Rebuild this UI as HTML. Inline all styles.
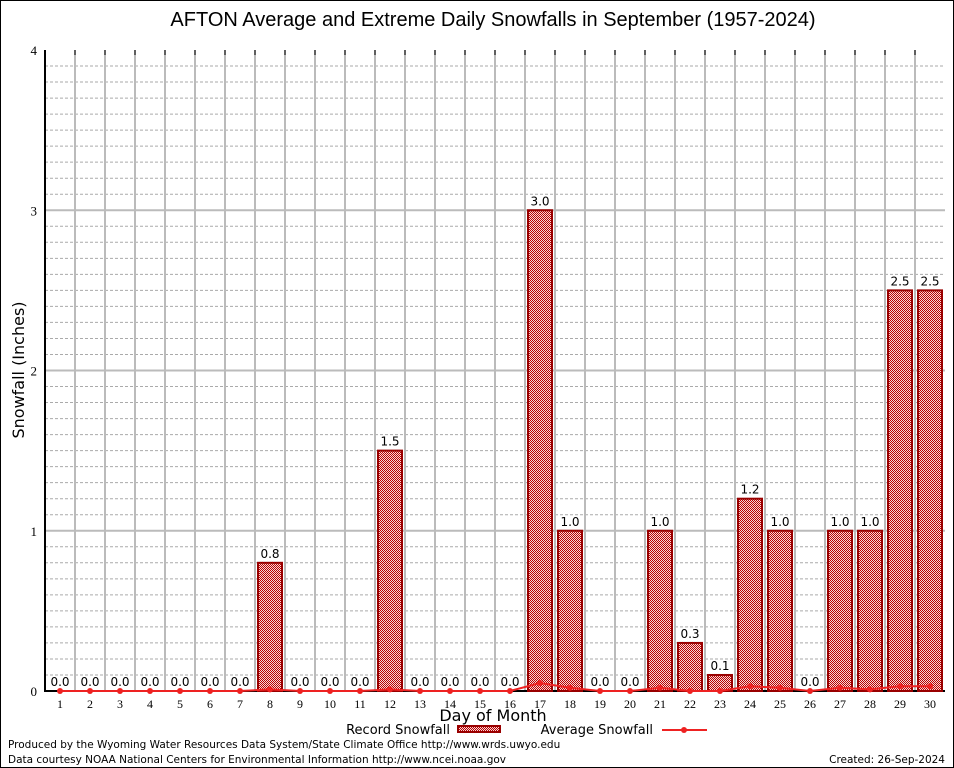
<!DOCTYPE html>
<html><head><meta charset="utf-8"><style>
body{margin:0;background:#fff}
svg{display:block;font-family:"DejaVu Sans","Liberation Sans",sans-serif}
</style></head><body>
<svg id="c" width="954" height="768">
<defs><pattern id="hatch" width="2" height="2" patternUnits="userSpaceOnUse"><rect width="2" height="2" fill="#f4d8d8"/><rect width="1" height="1" fill="#b00"/><rect x="1" y="1" width="1" height="1" fill="#b00"/></pattern></defs>
<rect x="0.5" y="0.5" width="953" height="767" fill="#fff" stroke="#000"/>
<text x="493" y="26" font-size="20" text-anchor="middle" font-family="Liberation Sans,sans-serif">AFTON Average and Extreme Daily Snowfalls in September (1957-2024)</text>
<g id="grid"></g><g id="bars"></g><g id="avg"></g>
<text x="24" y="370" font-size="16" text-anchor="middle" transform="rotate(-90 24 370)">Snowfall (Inches)</text>
<text x="493" y="721" font-size="16" text-anchor="middle">Day of Month</text>
<g>
<text x="450" y="734" font-size="13" text-anchor="end">Record Snowfall</text>
<rect x="458" y="726" width="42" height="6" fill="url(#hatch)" stroke="#900" stroke-width="2"/>
<text x="653" y="734" font-size="13" text-anchor="end">Average Snowfall</text>
<line x1="662" y1="730" x2="707" y2="730" stroke="#e22" stroke-width="2"/>
<circle cx="684" cy="730" r="3" fill="#e22"/>
</g>
<text x="8" y="748" font-size="10.5">Produced by the Wyoming Water Resources Data System/State Climate Office http://www.wrds.uwyo.edu</text>
<text x="8" y="763" font-size="10.5">Data courtesy NOAA National Centers for Environmental Information http://www.ncei.noaa.gov</text>
<text x="945" y="763" font-size="10.5" text-anchor="end">Created: 26-Sep-2024</text>
</svg>
<script>
const days=[1,2,3,4,5,6,7,8,9,10,11,12,13,14,15,16,17,18,19,20,21,22,23,24,25,26,27,28,29,30];
const records=[0,0,0,0,0,0,0,0.8,0,0,0,1.5,0,0,0,0,3.0,1.0,0,0,1.0,0.3,0.1,1.2,1.0,0,1.0,1.0,2.5,2.5];
const averages=[0,0,0,0,0,0,0,0.01,0,0,0,0.01,0,0,0,0,0.05,0.02,0,0,0.02,0,0,0.03,0.02,0,0.02,0.01,0.03,0.03];
const yTicks=[0,1,2,3,4];
const NS="http://www.w3.org/2000/svg";
const L=45,R=945,T=50,B=691;
const x=d=>60+(d-1)*30;
const y=v=>B-(v/4)*(B-T);
function mk(p,t,a){const e=document.createElementNS(NS,t);for(const k in a)e.setAttribute(k,a[k]);p.appendChild(e);return e;}
const g=document.getElementById('grid');
for(let i=1;i<40;i++){if(i%10===0)continue;const l=mk(g,'line',{x1:L,x2:R,y1:y(i/10),y2:y(i/10),stroke:'#aaa','stroke-dasharray':'3,2','stroke-width':1});

}
yTicks.forEach(v=>{if(v>0&&v<4){const l=mk(g,'line',{x1:L,x2:R,y1:y(v),y2:y(v),stroke:'#bbb','stroke-width':2});

}
const t=mk(g,'text',{x:37,y:y(v)+5,'font-size':13,'text-anchor':'end','font-family':'Liberation Serif,serif'});t.textContent=v;

});
days.forEach(d=>{if(d<30){const l=mk(g,'line',{x1:x(d)+15,x2:x(d)+15,y1:T,y2:B,stroke:'#bbb','stroke-width':2});


const tk=mk(g,'line',{x1:x(d)+15,x2:x(d)+15,y1:T,y2:T+5,stroke:'#000','stroke-width':1});

}
const t=mk(g,'text',{x:x(d),y:B+17,'font-size':12,'text-anchor':'middle','font-family':'Liberation Serif,serif'});t.textContent=d;

});
const ax=mk(g,'path',{d:`M${L} ${T}V${B}H${R}`,fill:'none',stroke:'#000','stroke-width':2});


const bg=document.getElementById('bars');
days.forEach((d,i)=>{const v=records[i];
if(v>0){const b=mk(bg,'rect',{x:x(d)-12,y:y(v),width:24,height:B-y(v),fill:'url(#hatch)',stroke:'#900','stroke-width':2});

}
const t=mk(bg,'text',{x:x(d),y:y(v)-5,'font-size':12,'text-anchor':'middle'});t.textContent=v.toFixed(1);

});
const ag=document.getElementById('avg');
const ln=mk(ag,'polyline',{points:days.map((d,i)=>x(d)+','+y(averages[i])).join(' '),fill:'none',stroke:'#e22','stroke-width':2});


days.forEach((d,i)=>{const c=mk(ag,'circle',{cx:x(d),cy:y(averages[i]),r:3,fill:'#e22'});

});
</script>
</body></html>
